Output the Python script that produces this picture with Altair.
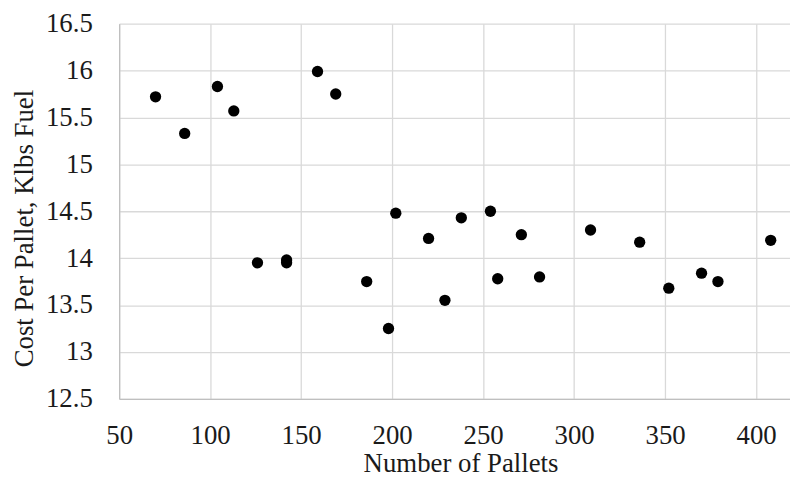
import altair as alt
import pandas as pd

pallets = [70, 86, 104, 113, 159, 169, 126, 142, 142, 186, 198, 202, 220, 229,
           238, 254, 258, 271, 281, 309, 336, 352, 370, 379, 408]
cost = [15.72, 15.33, 15.83, 15.57, 15.99, 15.75, 13.95, 13.98, 13.95, 13.75,
        13.25, 14.48, 14.21, 13.55, 14.43, 14.50, 13.78, 14.25, 13.80, 14.30,
        14.17, 13.68, 13.84, 13.75, 14.19]
x_ticks = [50, 100, 150, 200, 250, 300, 350, 400]
y_ticks = [12.5, 13, 13.5, 14, 14.5, 15, 15.5, 16, 16.5]

df = pd.DataFrame({"pallets": pallets, "cost": cost})

FONT = "Liberation Serif"
TXT = "#1a1a1a"

chart = alt.Chart(df).mark_circle(size=130, opacity=1, color="black").encode(
    x=alt.X("pallets:Q",
            scale=alt.Scale(domain=[50, 418.6], nice=False, zero=False),
            axis=alt.Axis(values=x_ticks, title="Number of Pallets",
                          ticks=False, tickSize=0, labelPadding=45,
                          labelBaseline="alphabetic", labelFontSize=27,
                          labelFont=FONT, labelColor=TXT, titleFont=FONT,
                          titleFontSize=27, titleFontWeight="normal",
                          titleColor=TXT, titleBaseline="alphabetic",
                          titleX=344, titleY=73, titleAnchor="middle",
                          domainColor="#bfbfbf", domainWidth=1.3,
                          gridColor="#d9d9d9", gridWidth=1.3,
                          labelFlush=False, labelOverlap=False)),
    y=alt.Y("cost:Q",
            scale=alt.Scale(domain=[12.5, 16.5], nice=False, zero=False),
            axis=alt.Axis(values=y_ticks, title="Cost Per Pallet, Klbs Fuel",
                          ticks=False, tickSize=0, labelPadding=27,
                          labelFontSize=27, labelFont=FONT, labelColor=TXT,
                          titleFont=FONT, titleFontSize=27,
                          titleFontWeight="normal", titleColor=TXT,
                          titleAngle=-90, titleBaseline="alphabetic",
                          titleX=-87, titleY=206, titleAnchor="middle",
                          domainColor="#bfbfbf", domainWidth=1.3,
                          gridColor="#d9d9d9", gridWidth=1.3,
                          labelFlush=False, labelOverlap=False,
                          format="~g")),
).properties(
    width=676, height=378,
    autosize=alt.AutoSizeParams(type="none"),
    padding={"left": 112, "top": 14, "right": 0, "bottom": 80},
    background="white",
).configure_view(stroke=None)

chart.save("out.html", embed_options={"renderer": "svg", "actions": False})
